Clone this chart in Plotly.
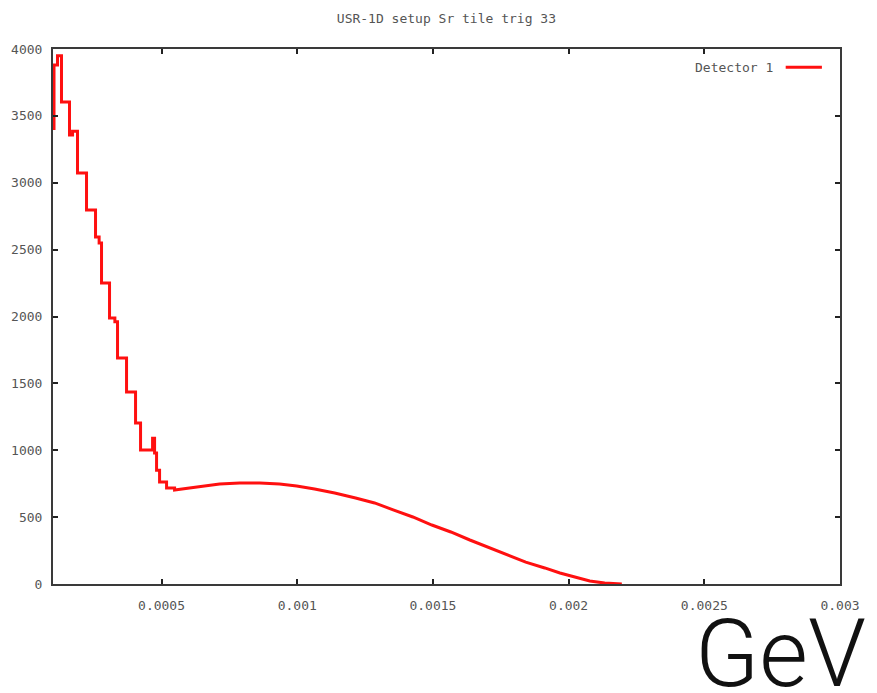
import plotly.graph_objects as go

# ---- data ----
# coarse stepped region: bin edges and level values
step_edges = [0.0001037, 0.0001166, 0.0001313, 0.0001608, 0.0001720, 0.0001903,
              0.0002235, 0.0002567, 0.0002700, 0.0002788, 0.0003083, 0.0003280,
              0.0003378, 0.0003710, 0.0004042, 0.0004226, 0.0004669, 0.0004743,
              0.0004816, 0.0004927, 0.0005185, 0.0005480]
step_levels = [3880, 3950, 3604, 3357, 3385, 3073,
               2796, 2595, 2550, 2250, 1989, 1960,
               1690, 1436, 1204, 1002, 1090, 980,
               850, 762, 718]
# smooth tail region
tail_x = [0.000548, 0.000603, 0.000659, 0.000714, 0.000788, 0.000862, 0.000935,
          0.000998, 0.001064, 0.001138, 0.001215, 0.001285, 0.001356, 0.001426,
          0.001496, 0.001566, 0.001636, 0.001702, 0.001772, 0.001842, 0.001912,
          0.001968, 0.002023, 0.002078, 0.002133, 0.002196]
tail_y = [703, 718, 733, 748, 755, 755, 748,
          733, 710, 680, 643, 606, 553, 501,
          441, 389, 329, 277, 217, 164, 120,
          82, 52, 22, 7, 0]
start_value = 3394

x_ticks = [0.0005, 0.001, 0.0015, 0.002, 0.0025, 0.003]
x_tick_labels = ["0.0005", "0.001", "0.0015", "0.002", "0.0025", "0.003"]
y_ticks = [0, 500, 1000, 1500, 2000, 2500, 3000, 3500, 4000]

series_name = "Detector 1"
title_text = "USR-1D setup Sr tile trig 33"

# ---- build the stepped polyline from the data ----
xs = [step_edges[0]]
ys = [start_value]
for i, lv in enumerate(step_levels):
    xs += [step_edges[i], step_edges[i + 1]]
    ys += [lv, lv]
xs += tail_x
ys += tail_y

mono = "DejaVu Sans Mono"
txtcol = "#555555"

fig = go.Figure()
fig.add_trace(go.Scatter(x=xs, y=ys, mode="lines", name=series_name,
                         line=dict(color="#ff1010", width=3), showlegend=False))

axis_common = dict(showgrid=False, zeroline=False, showline=True, linewidth=2,
                   linecolor="#3a3a3a", mirror="ticks", ticks="inside",
                   ticklen=5, tickwidth=1.5, tickcolor="#222",
                   tickfont=dict(family=mono, size=13, color=txtcol))

fig.update_xaxes(range=[0.0001, 0.003], tickvals=x_ticks, ticktext=x_tick_labels,
                 ticklabelstandoff=8, **axis_common)
fig.update_yaxes(range=[0, 4000], tickvals=y_ticks, ticklabelstandoff=6,
                 **axis_common)

# gnuplot-style legend: text followed by the line sample
fig.add_annotation(xref="paper", yref="paper", x=0.9175, y=0.966,
                   text=series_name, showarrow=False, xanchor="right",
                   yanchor="middle", font=dict(family=mono, size=13, color=txtcol))
fig.add_shape(type="line", xref="paper", yref="paper", x0=0.931, x1=0.977,
              y0=0.966, y1=0.966, line=dict(color="#ff1010", width=3))

# big unit label
fig.add_annotation(xref="paper", yref="paper", x=0.924, y=-0.13,
                   text="GeV", showarrow=False, xanchor="center", yanchor="middle",
                   font=dict(family="Roboto", size=94, color="#111", weight=300))

fig.update_layout(
    width=877, height=693,
    margin=dict(l=53, r=37, t=49, b=109),
    paper_bgcolor="white", plot_bgcolor="white",
    title=dict(text=title_text, x=0.509, xanchor="center", y=0.974, yanchor="middle",
               font=dict(family=mono, size=13, color=txtcol)),
)

fig.write_html("out.html")
